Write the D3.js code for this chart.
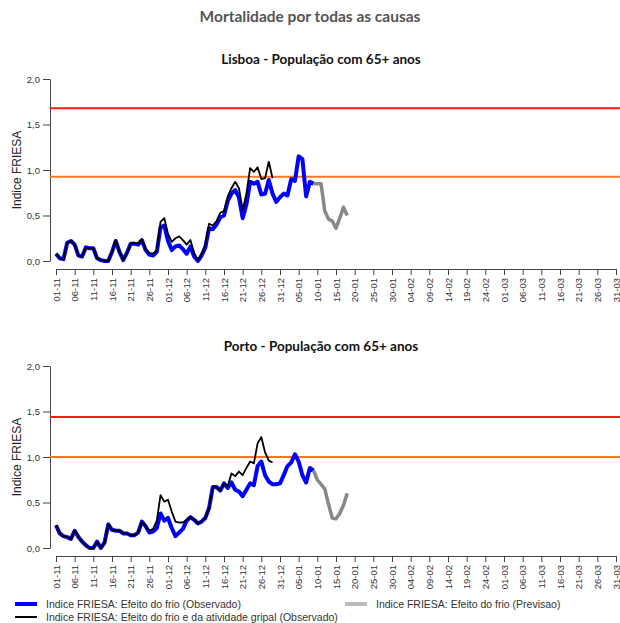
<!DOCTYPE html>
<html>
<head>
<meta charset="utf-8">
<script src="https://cdn.jsdelivr.net/npm/d3@7"></script>
<style>
  body { margin: 0; background: #fff; }
  svg { display: block; }
</style>
</head>
<body>
<div id="chart"></div>
<script>
// Chart data (daily values starting at 01-11)
var startDay = "2016-11-01";

var tickLabels = ["01-11","06-11","11-11","16-11","21-11","26-11",
  "01-12","06-12","11-12","16-12","21-12","26-12","31-12",
  "05-01","10-01","15-01","20-01","25-01","30-01",
  "04-02","09-02","14-02","19-02","24-02",
  "01-03","06-03","11-03","16-03","21-03","26-03","31-03"];

// Lisboa
var lisboaFrio = [0.08,0.03,0.02,0.20,0.22,0.18,0.06,0.05,0.15,0.14,
  0.14,0.03,0.01,0.00,0.00,0.10,0.22,0.10,0.01,0.09,
  0.19,0.19,0.18,0.23,0.12,0.07,0.06,0.10,0.37,0.39,
  0.22,0.12,0.16,0.17,0.13,0.08,0.16,0.05,0.00,0.06,
  0.15,0.36,0.35,0.40,0.48,0.50,0.66,0.74,0.78,0.70,
  0.47,0.62,0.87,0.85,0.87,0.73,0.74,0.89,0.74,0.65,
  0.70,0.74,0.72,0.90,0.88,1.15,1.12,0.71,0.87,0.85];
var lisboaGripe = [0.08,0.03,0.02,0.20,0.22,0.18,0.06,0.05,0.15,0.14,
  0.14,0.03,0.01,0.00,0.00,0.10,0.23,0.10,0.01,0.09,
  0.19,0.20,0.19,0.24,0.13,0.09,0.08,0.12,0.43,0.47,
  0.30,0.21,0.25,0.27,0.23,0.18,0.23,0.09,0.01,0.08,
  0.18,0.41,0.39,0.44,0.53,0.55,0.71,0.80,0.87,0.80,
  0.56,0.74,1.02,0.98,1.03,0.90,0.91,1.09,0.91];
var lisboaPrev = [0.85,0.85,0.85,0.55,0.46,0.44,0.36,0.47,0.59,0.50];

// Porto
var portoFrio = [0.25,0.16,0.13,0.12,0.10,0.19,0.12,0.07,0.03,0.00,
  0.00,0.07,0.00,0.06,0.26,0.20,0.19,0.19,0.16,0.16,
  0.14,0.14,0.17,0.29,0.24,0.17,0.18,0.22,0.38,0.30,
  0.33,0.22,0.13,0.17,0.21,0.30,0.34,0.31,0.27,0.29,
  0.33,0.44,0.67,0.67,0.63,0.71,0.66,0.72,0.64,0.62,
  0.57,0.64,0.71,0.69,0.90,0.95,0.80,0.73,0.70,0.70,
  0.71,0.80,0.90,0.94,1.03,0.95,0.80,0.72,0.88,0.85];
var portoGripe = [0.25,0.16,0.13,0.12,0.10,0.19,0.12,0.07,0.03,0.00,
  0.00,0.07,0.00,0.06,0.26,0.20,0.19,0.19,0.16,0.16,
  0.14,0.14,0.17,0.29,0.24,0.19,0.21,0.30,0.58,0.51,
  0.53,0.40,0.29,0.28,0.28,0.31,0.34,0.31,0.27,0.29,
  0.33,0.44,0.67,0.67,0.63,0.71,0.68,0.82,0.79,0.84,
  0.80,0.88,0.95,0.93,1.15,1.22,1.05,0.96,0.94];
var portoPrev = [0.85,0.75,0.70,0.65,0.48,0.33,0.32,0.38,0.47,0.60];

// Alert thresholds
var lisboaLimites = [0.926, 1.678];
var portoLimites = [1.0, 1.44];

// SVG area
var svg_Width = 620;
var svg_Height = 623;

var svg = d3.select("#chart")
  .append("svg")
  .attr("width", svg_Width)
  .attr("height", svg_Height);

var parseDay = d3.timeParse("%Y-%m-%d");
var day0 = parseDay(startDay);

var xScale = d3.scaleTime()
  .domain([day0, d3.timeDay.offset(day0, 150)])
  .range([56, 616]);

var tickDates = tickLabels.map((t, i) => d3.timeDay.offset(day0, i * 5));

// Main title
svg.append("text")
  .attr("x", 310)
  .attr("y", 22)
  .attr("text-anchor", "middle")
  .style("font-family", "Lato, 'DejaVu Sans', sans-serif")
  .style("font-weight", "700")
  .style("font-size", "15.5px")
  .style("fill", "#555")
  .text("Mortalidade por todas as causas");

function toPoints(values, offset) {
  return values.map((v, i) => ({ date: d3.timeDay.offset(day0, offset + i), value: v }));
}

function drawPanel(top, title, frio, gripe, prev, limites) {
  var yScale = d3.scaleLinear()
    .domain([0, 2])
    .range([top + 182, top]);

  var g = svg.append("g");

  // panel title
  g.append("text")
    .attr("x", 321)
    .attr("y", top - 15)
    .attr("text-anchor", "middle")
    .style("font-family", "Lato, 'DejaVu Sans', sans-serif")
    .style("font-weight", "700")
    .style("font-size", "13.5px")
    .style("fill", "#111")
    .text(title);

  // y axis
  var yAxis = g.append("g")
    .attr("transform", "translate(50,0)")
    .call(d3.axisLeft(yScale)
      .tickValues([0, 0.5, 1, 1.5, 2])
      .tickFormat(d => d3.format(".1f")(d).replace(".", ","))
      .tickSize(7)
      .tickSizeOuter(0)
      .tickPadding(3));
  yAxis.selectAll("path, line").attr("stroke", "#444");
  yAxis.selectAll("text")
    .style("font-family", "'Liberation Sans', Arial, sans-serif")
    .style("font-size", "9.5px")
    .style("fill", "#333");

  g.append("text")
    .attr("transform", `translate(21, ${top + 91}) rotate(-90)`)
    .attr("text-anchor", "middle")
    .style("font-family", "'Liberation Sans', Arial, sans-serif")
    .style("font-size", "12px")
    .style("fill", "#222")
    .text("Indice FRIESA");

  // x axis
  var xAxis = g.append("g")
    .attr("transform", `translate(0, ${top + 190})`)
    .call(d3.axisBottom(xScale)
      .tickValues(tickDates)
      .tickFormat((d, i) => tickLabels[i])
      .tickSize(6)
      .tickSizeOuter(0));
  xAxis.selectAll("path, line").attr("stroke", "#444");
  xAxis.selectAll("text")
    .attr("transform", "rotate(-90)")
    .attr("text-anchor", "end")
    .attr("x", -9)
    .attr("y", 0)
    .attr("dy", "0.35em")
    .style("font-family", "'Liberation Sans', Arial, sans-serif")
    .style("font-size", "9.5px")
    .style("fill", "#333");

  // threshold lines
  g.append("line")
    .attr("x1", 50).attr("x2", 620)
    .attr("y1", yScale(limites[1])).attr("y2", yScale(limites[1]))
    .attr("stroke", "#ff1a1a").attr("stroke-width", 2);
  g.append("line")
    .attr("x1", 50).attr("x2", 620)
    .attr("y1", yScale(limites[0])).attr("y2", yScale(limites[0]))
    .attr("stroke", "#ff7420").attr("stroke-width", 2);

  var line = d3.line()
    .x(d => xScale(d.date))
    .y(d => yScale(d.value));

  g.append("path")
    .datum(toPoints(frio, 0))
    .attr("fill", "none")
    .attr("stroke", "#0000ff")
    .attr("stroke-width", 4)
    .attr("stroke-linejoin", "round")
    .attr("d", line);

  g.append("path")
    .datum(toPoints(prev, frio.length - 1))
    .attr("fill", "none")
    .attr("stroke", "#888")
    .attr("stroke-width", 3.5)
    .attr("stroke-linejoin", "round")
    .attr("d", line);

  g.append("path")
    .datum(toPoints(gripe, 0))
    .attr("fill", "none")
    .attr("stroke", "#000")
    .attr("stroke-width", 1.8)
    .attr("stroke-linejoin", "round")
    .attr("d", line);
}

drawPanel(79, "Lisboa - População com 65+ anos", lisboaFrio, lisboaGripe, lisboaPrev, lisboaLimites);
drawPanel(366, "Porto - População com 65+ anos", portoFrio, portoGripe, portoPrev, portoLimites);

// Legend
var legendItems = [
  { label: "Indice FRIESA: Efeito do frio (Observado)", color: "#0000ff", width: 4, x: 15, y: 604 },
  { label: "Indice FRIESA: Efeito do frio (Previsao)", color: "#bbb", width: 4, x: 345, y: 604 },
  { label: "Indice FRIESA: Efeito do frio e da atividade gripal (Observado)", color: "#000", width: 2, x: 15, y: 617 }
];

var legend = svg.selectAll(".legend")
  .data(legendItems)
  .enter()
  .append("g")
  .attr("class", "legend")
  .attr("transform", d => `translate(${d.x}, ${d.y})`);

legend.append("line")
  .attr("x1", 0).attr("x2", 22)
  .attr("stroke", d => d.color)
  .attr("stroke-width", d => d.width);

legend.append("text")
  .attr("x", 31)
  .attr("dy", "0.35em")
  .style("font-family", "'Liberation Sans', Arial, sans-serif")
  .style("font-size", "10.5px")
  .style("fill", "#333")
  .text(d => d.label);
</script>
</body>
</html>
